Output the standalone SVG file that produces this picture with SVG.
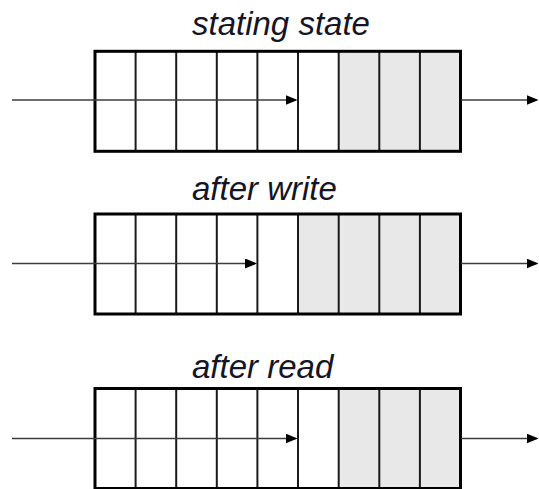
<svg xmlns="http://www.w3.org/2000/svg" width="539" height="489" viewBox="0 0 539 489">
  <style>
    .label { font-family: "Liberation Sans", Arial, sans-serif; font-style: italic; font-size: 33px; fill: #151525; }
    .frame { fill: none; stroke: #000; stroke-width: 3; }
    .divider { stroke: #1a1a1a; stroke-width: 2; }
    .used { fill: #e8e8e8; }
    .flow { stroke: #3c3c3c; stroke-width: 1.7; fill: none; marker-end: url(#head); }
  </style>
  <defs>
    <marker id="head" markerUnits="userSpaceOnUse" markerWidth="12" markerHeight="10" refX="10" refY="5" orient="auto">
      <path d="M0,0 L12,5 L0,10 Z" fill="#000"/>
    </marker>
    <!-- nine-slot buffer, slot width 40.6 -->
    <g id="dividers">
      <line class="divider" x1="135.6" y1="0" x2="135.6" y2="100"/>
      <line class="divider" x1="176.2" y1="0" x2="176.2" y2="100"/>
      <line class="divider" x1="216.8" y1="0" x2="216.8" y2="100"/>
      <line class="divider" x1="257.4" y1="0" x2="257.4" y2="100"/>
      <line class="divider" x1="298" y1="0" x2="298" y2="100"/>
      <line class="divider" x1="338.7" y1="0" x2="338.7" y2="100"/>
      <line class="divider" x1="379.3" y1="0" x2="379.3" y2="100"/>
      <line class="divider" x1="419.9" y1="0" x2="419.9" y2="100"/>
    </g>
  </defs>

  <!-- starting state -->
  <g id="state-start">
    <text class="label" x="192" y="35">stating state</text>
    <rect class="used" x="338.7" y="51.3" width="121.8" height="100"/>
    <use href="#dividers" y="51.3"/>
    <rect class="frame" x="95" y="51.3" width="365.5" height="100"/>
  </g>

  <!-- after write -->
  <g id="state-write">
    <text class="label" x="192" y="200">after write</text>
    <rect class="used" x="298" y="214" width="162.5" height="100"/>
    <use href="#dividers" y="214"/>
    <rect class="frame" x="95" y="214" width="365.5" height="100"/>
  </g>

  <!-- after read -->
  <g id="state-read">
    <text class="label" x="192" y="378">after read</text>
    <rect class="used" x="338.7" y="388.5" width="121.8" height="100"/>
    <use href="#dividers" y="388.5"/>
    <rect class="frame" x="95" y="388.5" width="365.5" height="100"/>
  </g>

  <!-- input / output arrows -->
  <g id="connectors">
    <line class="flow" x1="12" y1="100" x2="295.5" y2="100"/>
    <line class="flow" x1="461" y1="100" x2="536.5" y2="100"/>
    <line class="flow" x1="12" y1="263.5" x2="255" y2="263.5"/>
    <line class="flow" x1="461" y1="263.5" x2="536.5" y2="263.5"/>
    <line class="flow" x1="12" y1="438.5" x2="295.5" y2="438.5"/>
    <line class="flow" x1="461" y1="438.5" x2="536.5" y2="438.5"/>
  </g>
</svg>
